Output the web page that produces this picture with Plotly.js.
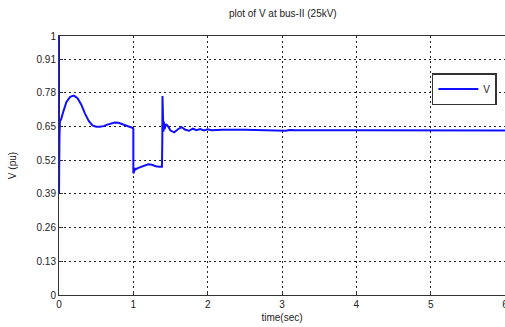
<!DOCTYPE html>
<html>
<head>
<meta charset="utf-8">
<script src="https://cdn.plot.ly/plotly-3.0.1.min.js"></script>
<style>html,body{margin:0;padding:0;background:#fff;}#chart{width:505px;height:327px;}</style>
</head>
<body>
<div id="chart"></div>
<script>
// time (s)
const timeSec = [0, 0, 0.003, 0.006, 0.012, 0.03, 0.06, 0.1, 0.15, 0.2, 0.25, 0.3, 0.35, 0.4, 0.45, 0.5, 0.55, 0.6, 0.65, 0.7, 0.75, 0.8, 0.85, 0.9, 0.95, 0.995, 1.0,
  1.0, 1.01, 1.015, 1.03, 1.06, 1.1, 1.15, 1.2, 1.25, 1.3, 1.35, 1.385,
  1.39, 1.392, 1.395, 1.40, 1.405, 1.41, 1.42, 1.44, 1.47, 1.5, 1.55, 1.6, 1.65, 1.7, 1.75, 1.8, 1.85, 1.9, 1.95, 2.0, 2.05, 2.2, 2.5, 3.0, 3.05, 3.1, 3.2, 4, 5, 6];
// voltage (pu)
const voltPu = [1.0, 0.39, 0.82, 0.6, 0.67, 0.68, 0.71, 0.745, 0.765, 0.77, 0.76, 0.735, 0.70, 0.672, 0.655, 0.65, 0.65, 0.652, 0.658, 0.663, 0.666, 0.665, 0.66, 0.655, 0.65, 0.645, 0.64,
  0.47, 0.475, 0.49, 0.485, 0.49, 0.495, 0.5, 0.505, 0.503, 0.497, 0.495, 0.495,
  0.6, 0.768, 0.61, 0.68, 0.63, 0.67, 0.64, 0.66, 0.65, 0.635, 0.628, 0.64, 0.648, 0.638, 0.634, 0.642, 0.636, 0.641, 0.635, 0.64, 0.636, 0.638, 0.638, 0.637, 0.634, 0.637, 0.636, 0.636, 0.635, 0.635];
const xTicks = [0, 1, 2, 3, 4, 5, 6];
const yTicks = [0, 0.13, 0.26, 0.39, 0.52, 0.65, 0.78, 0.91, 1];
const yTickText = ['0', '0.13', '0.26', '0.39', '0.52', '0.65', '0.78', '0.91', '1'];

const font = {family: 'Liberation Sans, Arial, sans-serif', size: 10, color: '#222'};

const trace = {
  x: timeSec, y: voltPu, type: 'scatter', mode: 'lines', name: 'V',
  line: {color: '#1010ff', width: 2}
};

const axisCommon = {
  showline: true, linecolor: '#333', linewidth: 1, mirror: true,
  ticks: 'inside', ticklen: 4, tickcolor: '#333',
  showgrid: true, gridcolor: '#222', gridwidth: 1, griddash: '2px,3px',
  zeroline: false, tickfont: font, layer: 'below traces'
};

const layout = {
  width: 505, height: 327,
  margin: {l: 59, r: 0, t: 36, b: 32},
  paper_bgcolor: '#fff', plot_bgcolor: '#fff',
  font: font,
  title: {text: 'plot of V at bus-II (25kV)', font: {family: font.family, size: 10, color: '#222'}, x: 0.56, xanchor: 'center', y: 0.96, yanchor: 'middle'},
  xaxis: Object.assign({}, axisCommon, {
    range: [0, 6], tickvals: xTicks, ticklabeloverflow: 'allow',
    title: {text: 'time(sec)', font: {family: font.family, size: 10, color: '#222'}, standoff: 4}
  }),
  yaxis: Object.assign({}, axisCommon, {
    range: [0, 1], tickvals: yTicks, ticktext: yTickText,
    title: {text: 'V (pu)', font: {family: font.family, size: 10, color: '#222'}, standoff: 18}
  }),
  showlegend: true,
  legend: {
    x: 0.836, y: 0.857, xanchor: 'left', yanchor: 'top',
    bgcolor: '#fff', bordercolor: '#333', borderwidth: 1.5,
    itemwidth: 40,
    font: {family: font.family, size: 10, color: '#222'}
  }
};

Plotly.newPlot('chart', [trace], layout, {displayModeBar: false, staticPlot: true});
</script>
</body>
</html>
